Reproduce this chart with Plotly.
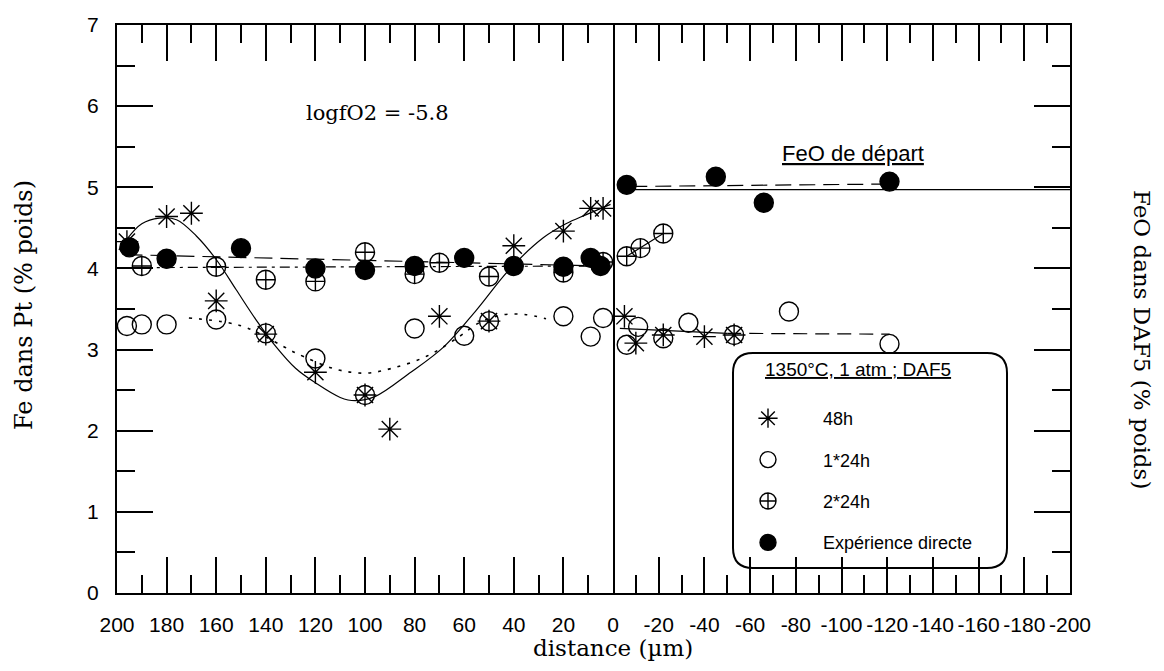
import plotly.graph_objects as go
from plotly.subplots import make_subplots

# ---------------- data ----------------
# 48h (asterisks)
h48_left_x = [196, 180, 170, 160, 140, 120, 100, 90, 70, 50, 40, 20, 9, 4]
h48_left_y = [4.33, 4.64, 4.68, 3.60, 3.19, 2.72, 2.44, 2.02, 3.41, 3.35, 4.28, 4.46, 4.74, 4.74]
h48_right_x = [-5, -10, -22, -40, -53]
h48_right_y = [3.41, 3.08, 3.18, 3.16, 3.18]

# 1*24h (open circles)
c24_left_x = [196, 190, 180, 160, 140, 120, 100, 80, 60, 50, 20, 9, 4]
c24_left_y = [3.29, 3.31, 3.31, 3.37, 3.20, 2.89, 2.44, 3.26, 3.17, 3.35, 3.41, 3.16, 3.39]
c24_right_x = [-6, -11, -22, -33, -53, -77, -121]
c24_right_y = [3.06, 3.28, 3.14, 3.33, 3.18, 3.47, 3.07]

# 2*24h (crossed circles)
d24_left_x = [190, 160, 140, 120, 100, 80, 70, 50, 20, 4]
d24_left_y = [4.03, 4.02, 3.86, 3.84, 4.20, 3.93, 4.07, 3.90, 3.95, 4.08]
d24_right_x = [-6, -12, -22]
d24_right_y = [4.15, 4.25, 4.43]

# Expérience directe (filled circles)
dir_left_x = [195, 180, 150, 120, 100, 80, 60, 40, 20, 9, 5]
dir_left_y = [4.26, 4.12, 4.25, 4.00, 3.98, 4.03, 4.13, 4.03, 4.02, 4.13, 4.03]
dir_right_x = [-6, -45, -66, -121]
dir_right_y = [5.03, 5.13, 4.81, 5.07]

# fitted curves
fit48_x = [196, 190, 183, 176, 168, 160, 152, 144, 136, 128, 120, 110, 104, 96, 82, 68, 55, 42, 28, 19, 11, 1]
fit48_y = [4.36, 4.55, 4.62, 4.60, 4.40, 4.11, 3.74, 3.37, 3.04, 2.77, 2.59, 2.41, 2.37, 2.42, 2.71, 3.04, 3.49, 3.98, 4.38, 4.55, 4.66, 4.79]
fit24_x = [171, 155, 147, 133, 128, 112, 100, 89, 75, 62, 54, 44, 35, 27]
fit24_y = [3.39, 3.33, 3.26, 3.04, 2.96, 2.76, 2.71, 2.77, 2.92, 3.16, 3.33, 3.43, 3.43, 3.38]
fitdir_left_x = [197, 5]
fitdir_left_y = [4.17, 4.03]
fit2x24_left_x = [190, 5]
fit2x24_left_y = [4.01, 4.03]
feo_start_x = [-8, -200]
feo_start_y = [4.97, 4.97]
fitdir_right_x = [-8, -121]
fitdir_right_y = [5.01, 5.04]
fit2x24_right_x = [-6, -22]
fit2x24_right_y = [4.15, 4.43]
fit48_right_x = [-3, -50]
fit48_right_y = [3.26, 3.20]
fit24_right_x = [-50, -121]
fit24_right_y = [3.20, 3.19]

left_ticks = [200, 180, 160, 140, 120, 100, 80, 60, 40, 20, 0]
right_ticks = [-20, -40, -60, -80, -100, -120, -140, -160, -180, -200]
y_ticks = [0, 1, 2, 3, 4, 5, 6, 7]

# ---------------- geometry ----------------
# the page body has an 8px default margin, so the figure is made slightly smaller
OFF = 8
PX0, PX1, PY0, PY1 = 117, 1070, 25, 593          # plot area in page pixels
PW, PH = PX1 - PX0, PY1 - PY0
FW, FH = 1164 - 2 * OFF, 671 - 2 * OFF
L, T = PX0 - OFF, PY0 - OFF
R, B = FW - L - PW, FH - T - PH

fig = make_subplots(rows=1, cols=2, column_widths=[496, 457], horizontal_spacing=0)

MS = 19
mk = dict(color="black", line=dict(color="black", width=1.4))


def pts(x, y, col, symbol, name, show):
    fig.add_trace(go.Scatter(x=x, y=y, mode="markers", name=name, legendgroup=name,
                             showlegend=show,
                             marker=dict(symbol=symbol, size=MS, **mk)), row=1, col=col)


def line(x, y, col, dash, shape="linear", w=1.2):
    fig.add_trace(go.Scatter(x=x, y=y, mode="lines", showlegend=False, hoverinfo="skip",
                             line=dict(color="black", width=w, dash=dash, shape=shape,
                                       smoothing=1.0)), row=1, col=col)


line(fit48_x, fit48_y, 1, "solid", "spline")
line(fit24_x, fit24_y, 1, "3px,7px", "spline", 1.6)
line(fitdir_left_x, fitdir_left_y, 1, "18px,8px")
line(fit2x24_left_x, fit2x24_left_y, 1, "10px,5px,3px,5px")
line(feo_start_x, feo_start_y, 2, "solid")
line(fitdir_right_x, fitdir_right_y, 2, "16px,8px")
line(fit2x24_right_x, fit2x24_right_y, 2, "solid")
line(fit48_right_x, fit48_right_y, 2, "solid")
line(fit24_right_x, fit24_right_y, 2, "14px,8px")

pts(h48_left_x, h48_left_y, 1, "asterisk-open", "48h", True)
pts(h48_right_x, h48_right_y, 2, "asterisk-open", "48h", False)
pts(c24_left_x, c24_left_y, 1, "circle-open", "1*24h", True)
pts(c24_right_x, c24_right_y, 2, "circle-open", "1*24h", False)
pts(d24_left_x, d24_left_y, 1, "circle-cross-open", "2*24h", True)
pts(d24_right_x, d24_right_y, 2, "circle-cross-open", "2*24h", False)
pts(dir_left_x, dir_left_y, 1, "circle", "Expérience directe", True)
pts(dir_right_x, dir_right_y, 2, "circle", "Expérience directe", False)

tickfont = dict(family="Liberation Sans, Arial, sans-serif", size=21, color="black")
minor_x = dict(ticks="inside", ticklen=18, tickwidth=1.5, tickcolor="black", tick0=0, dtick=10, showgrid=False)
minor_y = dict(ticks="inside", ticklen=18, tickwidth=1.5, tickcolor="black", tick0=0, dtick=0.5, showgrid=False)
xcommon = dict(showline=True, linewidth=2, linecolor="black", mirror="ticks", ticks="inside",
               ticklen=36, tickwidth=1.5, tickcolor="black", showgrid=False, zeroline=False,
               tickfont=tickfont, ticklabelstandoff=12, minor=minor_x, tickmode="array",
               automargin=False)
fig.update_xaxes(range=[200, 0], tickvals=left_ticks, ticktext=[str(v) for v in left_ticks],
                 row=1, col=1, **xcommon)
fig.update_xaxes(range=[0, -200], tickvals=right_ticks, ticktext=[str(v) for v in right_ticks],
                 row=1, col=2, **xcommon)
ycommon = dict(range=[0, 7], showline=True, linewidth=2, linecolor="black",
               ticks="inside", ticklen=36, tickwidth=1.5, tickcolor="black", showgrid=False,
               zeroline=False, tickmode="array", tickvals=y_ticks, minor=minor_y,
               automargin=False)
fig.update_yaxes(row=1, col=1, side="left", mirror=True, ticktext=[str(v) for v in y_ticks],
                 tickfont=tickfont, ticklabelstandoff=12, **ycommon)
fig.update_yaxes(row=1, col=2, side="right", mirror=False, showticklabels=False, **ycommon)

serif = "DejaVu Serif, Liberation Serif, serif"
sans = "Liberation Sans, Arial, sans-serif"


def px2x(px):
    return (px - PX0) / PW


def py2y(py):
    return (PY1 - py) / PH


def note(text, px, py, family, size, angle=0):
    return dict(text=text, x=px2x(px), y=py2y(py), xref="paper", yref="paper",
                xanchor="center", yanchor="middle", textangle=angle, showarrow=False,
                font=dict(family=family, size=size, color="black"))


annotations = [
    note("logfO2 = -5.8", 377, 113, serif, 21),
    note("<u>FeO de départ</u>", 853, 153, sans, 22),
    note("<u>1350°C, 1 atm ; DAF5</u>", 858, 369, sans, 19),
    note("Fe dans Pt (% poids)", 24, 305, serif, 24, -90),
    note("FeO dans DAF5 (% poids)", 1142, 339, serif, 23, 90),
    note("distance (µm)", 613, 648, serif, 23),
]

# rounded legend frame (pixel geometry -> paper)
bx0, bx1, by0, by1, rad = px2x(733), px2x(1007), py2y(568), py2y(353), 20
rx, ry = rad / PW, rad / PH
path = (f"M {bx0+rx},{by1} L {bx1-rx},{by1} Q {bx1},{by1} {bx1},{by1-ry} "
        f"L {bx1},{by0+ry} Q {bx1},{by0} {bx1-rx},{by0} L {bx0+rx},{by0} "
        f"Q {bx0},{by0} {bx0},{by0+ry} L {bx0},{by1-ry} Q {bx0},{by1} {bx0+rx},{by1} Z")

fig.update_layout(
    width=FW, height=FH, margin=dict(l=L, r=R, t=T, b=B, pad=0, autoexpand=False),
    plot_bgcolor="white", paper_bgcolor="white",
    annotations=annotations,
    shapes=[dict(type="path", path=path, xref="paper", yref="paper",
                 line=dict(color="black", width=2), fillcolor="rgba(0,0,0,0)")],
    legend=dict(x=px2x(713), y=py2y(400), xanchor="left", yanchor="top",
                bgcolor="rgba(0,0,0,0)", borderwidth=0, itemwidth=100,
                tracegroupgap=15, traceorder="grouped",
                font=dict(family=sans, size=18, color="black")),
    showlegend=True,
)

fig.write_html("out.html")
